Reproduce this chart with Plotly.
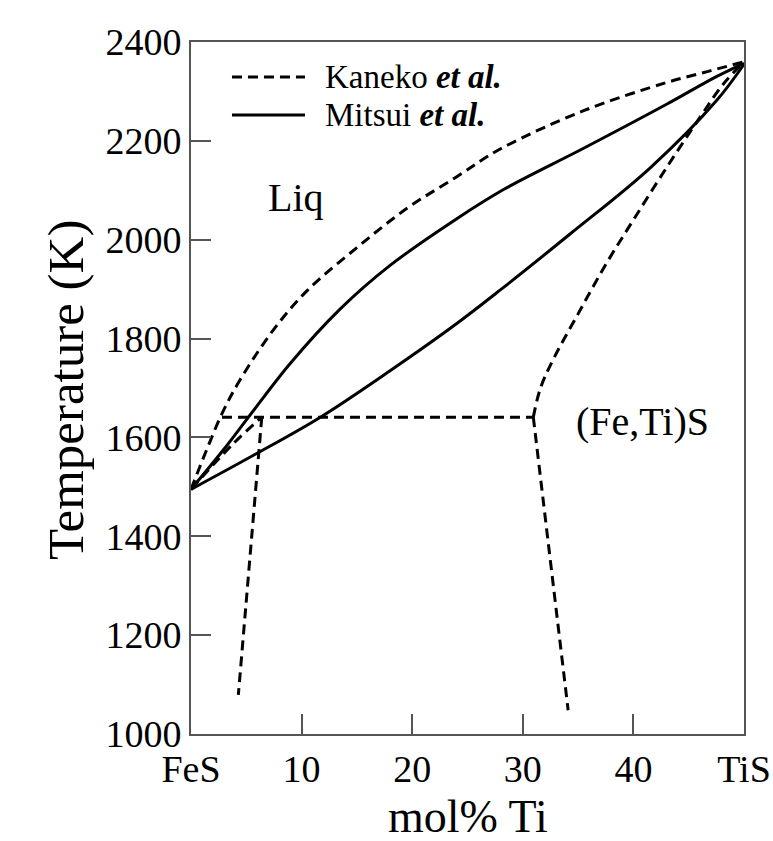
import plotly.graph_objects as go

# ---------------- data ----------------
x_tickvals = [0, 10, 20, 30, 40, 50]
x_ticktext = ["FeS", "10", "20", "30", "40", "TiS"]
y_tickvals = [1000, 1200, 1400, 1600, 1800, 2000, 2200, 2400]

# Kaneko et al. (dashed)
kaneko_liq_x = [0, 1.4, 2.8, 4.4, 7.4, 10.5, 15, 19.5, 24, 28.0, 35.5, 43, 47, 50]
kaneko_liq_T = [1495, 1574, 1648, 1715, 1816, 1897, 1984, 2063, 2127, 2184, 2261, 2318, 2342, 2360]

kaneko_sol_left_x = [0, 3.8, 6.4]
kaneko_sol_left_T = [1495, 1587, 1641]

kaneko_solvus_left_x = [6.4, 5.84, 4.95, 4.28]
kaneko_solvus_left_T = [1641, 1493, 1271, 1079]

kaneko_iso_x = [2.8, 30.95]
kaneko_iso_T = [1641, 1641]

kaneko_sol_right_x = [30.95, 31.6, 32.8, 35, 37.5, 40, 43, 46, 48.1, 50]
kaneko_sol_right_T = [1641, 1700, 1760, 1850, 1950, 2040, 2146, 2247, 2314, 2360]

kaneko_solvus_right_x = [30.95, 32.5, 34.1]
kaneko_solvus_right_T = [1641, 1352, 1048]

# Mitsui et al. (solid)
mitsui_liq_x = [0, 2.9, 5.2, 8.95, 13.5, 18, 24, 28.3, 35.5, 43, 47.5, 50]
mitsui_liq_T = [1495, 1574, 1641, 1749, 1860, 1948, 2042, 2102, 2185, 2274, 2330, 2357]

mitsui_sol_x = [0, 5.9, 11.7, 18, 24, 28, 34.3, 41.5, 47.5, 50]
mitsui_sol_T = [1495, 1567, 1641, 1735, 1830, 1899, 2012, 2145, 2281, 2355]

labels = {"liq": "Liq", "ss": "(Fe,Ti)S"}
label_pos = {"liq": (9.5, 2085), "ss": (40.8, 1632)}
legend_names = ["Kaneko <b><i>et al.</i></b>", "Mitsui <b><i>et al.</i></b>"]
x_title = "mol% Ti"
y_title = "Temperature (K)"

# ---------------- style ----------------
FONT = "Liberation Serif, Times New Roman, serif"
DASH = "10px,6px"
LW = 3
AXC = "#555555"

fig = go.Figure()


def add(x, y, dash, shape="linear"):
    fig.add_trace(go.Scatter(x=x, y=y, mode="lines",
                             line=dict(color="black", width=LW, dash=dash,
                                       shape=shape, smoothing=1.0),
                             showlegend=False, hoverinfo="skip"))


add(kaneko_liq_x, kaneko_liq_T, DASH, "spline")
add(kaneko_sol_left_x, kaneko_sol_left_T, DASH, "spline")
add(kaneko_solvus_left_x, kaneko_solvus_left_T, DASH)
add(kaneko_iso_x, kaneko_iso_T, DASH)
add(kaneko_sol_right_x, kaneko_sol_right_T, DASH, "spline")
add(kaneko_solvus_right_x, kaneko_solvus_right_T, DASH)
add(mitsui_liq_x, mitsui_liq_T, "solid", "spline")
add(mitsui_sol_x, mitsui_sol_T, "solid", "spline")

axis_common = dict(showline=True, linecolor=AXC, linewidth=2, mirror=True,
                   ticks="inside", ticklen=20, tickwidth=1.5, tickcolor=AXC,
                   showgrid=False, zeroline=False, automargin=False,
                   tickfont=dict(family=FONT, size=38, color="black"))

fig.update_layout(
    width=773, height=841,
    margin=dict(l=191, r=29, t=42, b=107),
    plot_bgcolor="white", paper_bgcolor="white",
    showlegend=False,
    xaxis=dict(range=[0, 50], tickvals=x_tickvals, ticktext=x_ticktext, **axis_common),
    yaxis=dict(range=[1000, 2400], tickvals=y_tickvals, **axis_common),
)

# axis titles
fig.add_annotation(x=0.5, y=-0.1185, xref="paper", yref="paper", text=x_title,
                   showarrow=False, xanchor="center", yanchor="middle",
                   font=dict(family=FONT, size=46, color="black"))
fig.add_annotation(x=-0.2260, y=0.497, xref="paper", yref="paper", text=y_title,
                   textangle=-90, showarrow=False, xanchor="center", yanchor="middle",
                   font=dict(family=FONT, size=51, color="black"))

# region labels
for k in ["liq", "ss"]:
    fig.add_annotation(x=label_pos[k][0], y=label_pos[k][1], text=labels[k],
                       showarrow=False, xref="x", yref="y",
                       font=dict(family=FONT, size=40, color="black"))

# legend (drawn manually to match the long line samples)
leg_y = [0.9494, 0.8945]
for yy, nm, ds in zip(leg_y, legend_names, [DASH, "solid"]):
    fig.add_shape(type="line", xref="paper", yref="paper", x0=0.0741, x1=0.2061,
                  y0=yy, y1=yy, line=dict(color="black", width=LW, dash=ds))
    fig.add_annotation(x=0.2387, y=yy, xref="paper", yref="paper", text=nm,
                       showarrow=False, xanchor="left", yanchor="middle",
                       font=dict(family=FONT, size=33, color="black"))

fig.write_html("out.html", config={"displayModeBar": False},
               post_script="document.body.style.margin='0px';")
